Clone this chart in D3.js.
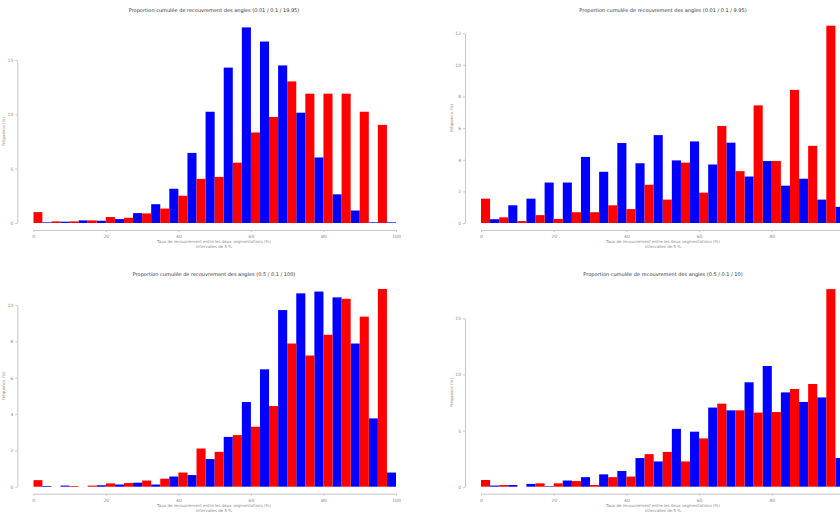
<!DOCTYPE html>
<html>
<head>
<meta charset="utf-8">
<script src="https://cdn.jsdelivr.net/npm/d3@7"></script>
<style>
  html, body { margin: 0; padding: 0; background: #fff; }
  svg { display: block; }
</style>
</head>
<body>
<svg id="chart" width="840" height="515"></svg>
<script>
/* ── Data (percent of samples per 5-unit bin) ── */
const binCenters = [0, 5, 10, 15, 20, 25, 30, 35, 40, 45, 50, 55, 60, 65, 70, 75, 80, 85, 90, 95, 100];
const xTicks     = [0, 20, 40, 60, 80, 100];

const tlBlue = [0, 0.06, 0.12, 0.24, 0.21, 0.36, 0.91, 1.73, 3.15, 6.45, 10.24, 14.3, 18.0, 16.7, 14.5, 10.15, 6.03, 2.64, 1.15, 0.06, 0.06];
const tlRed  = [1.0, 0.15, 0.15, 0.24, 0.55, 0.48, 0.88, 1.33, 2.51, 4.06, 4.24, 5.55, 8.33, 9.76, 13.03, 11.9, 11.9, 11.9, 10.24, 9.03, 0];
const tlYTicks = [0, 5, 10, 15];

const trBlue = [0, 0.24, 1.12, 1.54, 2.56, 2.56, 4.18, 3.24, 5.06, 3.78, 5.56, 3.96, 5.16, 3.7, 5.08, 2.94, 3.92, 2.36, 2.8, 1.48, 1.02];
const trRed  = [1.54, 0.36, 0.12, 0.5, 0.26, 0.68, 0.68, 1.12, 0.88, 2.42, 1.48, 3.82, 1.92, 6.14, 3.28, 7.44, 3.92, 8.42, 4.88, 12.48, 0];
const trYTicks = [0, 2, 4, 6, 8, 10, 12];

const blBlue = [0, 0.04, 0.06, 0, 0.08, 0.12, 0.22, 0.12, 0.56, 0.64, 1.52, 2.74, 4.66, 6.46, 9.72, 10.64, 10.74, 10.42, 7.88, 3.76, 0.78];
const blRed  = [0.36, 0, 0.04, 0.06, 0.18, 0.2, 0.34, 0.44, 0.78, 2.1, 1.92, 2.84, 3.3, 4.44, 7.88, 7.22, 8.36, 10.34, 9.36, 10.88, 0];
const blYTicks = [0, 2, 4, 6, 8, 10];

const brBlue = [0, 0.1, 0.15, 0.25, 0.05, 0.55, 0.85, 1.1, 1.4, 2.55, 2.25, 5.15, 4.9, 7.05, 6.8, 9.3, 10.75, 8.4, 7.55, 7.95, 2.55];
const brRed  = [0.6, 0.15, 0, 0.3, 0.3, 0.5, 0.15, 0.85, 0.9, 2.9, 3.1, 2.25, 4.3, 7.4, 6.8, 6.6, 6.65, 8.7, 9.15, 17.6, 0];
const brYTicks = [0, 5, 10, 15];

const titles = [
  'Proportion cumulée de recouvrement des angles (0.01 / 0.1 / 19.95)',
  'Proportion cumulée de recouvrement des angles (0.01 / 0.1 / 9.95)',
  'Proportion cumulée de recouvrement des angles (0.5 / 0.1 / 100)',
  'Proportion cumulée de recouvrement des angles (0.5 / 0.1 / 10)',
];
const xLabel1 = 'Taux de recouvrement entre les deux segmentations (%)';
const xLabel2 = 'intervalles de 5 %';
const yLabel  = 'Fréquence (%)';

const BLUE = '#0000ff';
const RED  = '#ff0000';
const AXIS = '#c8c8c8';
const TXT  = '#8a8a8a';
const FONT = '"DejaVu Sans", sans-serif';
const VIEW_W = 840;

/* ── Panel layout ── */
const panels = [
  { blue: tlBlue, red: tlRed, yTicks: tlYTicks, title: titles[0], x0: 33.3, x1: 396,   base: 223,   top: 60,    mid: 214 },
  { blue: trBlue, red: trRed, yTicks: trYTicks, title: titles[1], x0: 481,  x1: 844.5, base: 223,   top: 33.3,  mid: 663 },
  { blue: blBlue, red: blRed, yTicks: blYTicks, title: titles[2], x0: 33.3, x1: 396,   base: 486.7, top: 305,   mid: 214 },
  { blue: brBlue, red: brRed, yTicks: brYTicks, title: titles[3], x0: 481,  x1: 844.5, base: 486.7, top: 318.3, mid: 663 },
];

const svg = d3.select('#chart');
const HALF = 2.5;   // bar width in data units

panels.forEach((p, i) => {
  const x = d3.scaleLinear().domain([0, 100]).range([p.x0, p.x1]);
  const y = d3.scaleLinear().domain([0, d3.max(p.yTicks)]).range([p.base, p.top]);
  const g = svg.append('g');

  const clipId = 'clip' + i;
  svg.append('clipPath').attr('id', clipId)
    .append('rect')
    .attr('x', p.x0).attr('y', 0)
    .attr('width', p.x1 - p.x0).attr('height', p.base + 1);

  const bars = g.append('g').attr('clip-path', `url(#${clipId})`);

  /* blue = left bar of each group, red = right bar */
  bars.selectAll('rect.b')
    .data(binCenters.map((c, k) => ({ c, v: p.blue[k] })))
    .join('rect')
    .attr('class', 'b')
    .attr('x', d => x(d.c - HALF))
    .attr('width', d => x(d.c) - x(d.c - HALF))
    .attr('y', d => y(d.v))
    .attr('height', d => y(0) - y(d.v))
    .attr('fill', BLUE);

  bars.selectAll('rect.r')
    .data(binCenters.map((c, k) => ({ c, v: p.red[k] })))
    .join('rect')
    .attr('class', 'r')
    .attr('x', d => x(d.c))
    .attr('width', d => x(d.c + HALF) - x(d.c))
    .attr('y', d => y(d.v))
    .attr('height', d => y(0) - y(d.v))
    .attr('fill', RED);

  /* ── Offset axes ── */
  const styleAxis = ax => {
    ax.select('.domain').attr('stroke', AXIS);
    ax.selectAll('.tick line').attr('stroke', AXIS);
    ax.selectAll('.tick text')
      .attr('fill', TXT)
      .attr('font-size', 4.5)
      .attr('font-family', FONT);
  };

  /* ticks past the window edge are not visible in the crop */
  const shownTicks = xTicks.filter(t => x(t) + 6 < VIEW_W);

  g.append('g')
    .attr('transform', `translate(0,${p.base + 7})`)
    .call(d3.axisBottom(x).tickValues(shownTicks).tickSize(2).tickSizeOuter(0).tickPadding(3))
    .call(styleAxis);

  g.append('g')
    .attr('transform', `translate(${p.x0 - 16},0)`)
    .call(d3.axisLeft(y).tickValues(p.yTicks).tickSize(2).tickSizeOuter(0).tickPadding(2))
    .call(styleAxis);

  /* ── Texts ── */
  g.append('text')
    .attr('x', p.mid)
    .attr('y', p.base - 211)
    .attr('text-anchor', 'middle')
    .attr('fill', '#333')
    .attr('font-size', 5)
    .attr('font-family', FONT)
    .text(p.title);

  g.append('text')
    .attr('x', p.mid)
    .attr('y', p.base + 20)
    .attr('text-anchor', 'middle')
    .attr('fill', TXT)
    .attr('font-size', 4)
    .attr('font-family', FONT)
    .text(xLabel1);

  g.append('text')
    .attr('x', p.mid)
    .attr('y', p.base + 25)
    .attr('text-anchor', 'middle')
    .attr('fill', TXT)
    .attr('font-size', 4)
    .attr('font-family', FONT)
    .text(xLabel2);

  g.append('text')
    .attr('transform', `translate(${p.x0 - 28},${(p.base + p.top) / 2 - 10}) rotate(-90)`)
    .attr('text-anchor', 'middle')
    .attr('fill', TXT)
    .attr('font-size', 4)
    .attr('font-family', FONT)
    .text(yLabel);
});
</script>
</body>
</html>
